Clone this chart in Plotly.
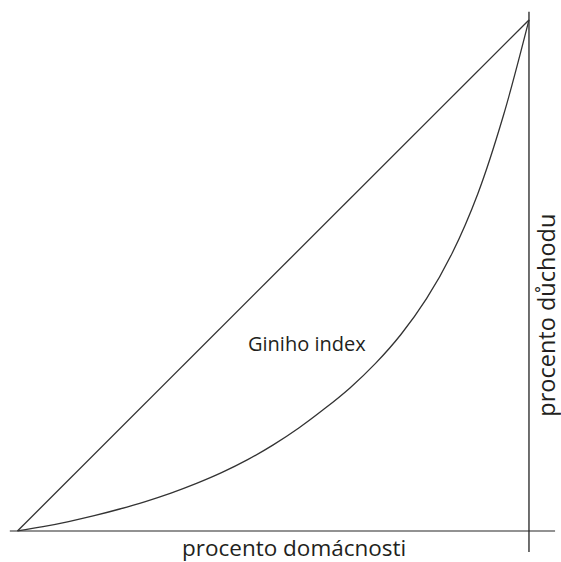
import plotly.graph_objects as go

# Lorenz curve (percent of households vs percent of income)
households = [0, 5, 10, 15, 20, 25, 30, 35, 40, 45, 50, 55, 60, 65, 70, 75, 80, 85, 90, 95, 100]
income = [0, 0.85, 1.85, 3.0, 4.3, 5.75, 7.4, 9.3, 11.45, 13.95, 16.85, 20.15, 23.9, 28.0,
          32.8, 38.5, 45.5, 54.4, 66.0, 81.3, 100]
equality_x = [0, 100]
equality_y = [0, 100]

label_center = "Giniho index"
label_x = "procento domácnosti"
label_y = "procento důchodu"

fig = go.Figure()
# axis lines
fig.add_trace(go.Scatter(x=[-1.5, 105.1], y=[0, 0], mode="lines",
                         line=dict(color="#6e6e6e", width=1.6), hoverinfo="skip"))
fig.add_trace(go.Scatter(x=[100, 100], y=[-4.1, 101.6], mode="lines",
                         line=dict(color="#222222", width=1.3), hoverinfo="skip"))
# equality line
fig.add_trace(go.Scatter(x=equality_x, y=equality_y, mode="lines",
                         line=dict(color="#333333", width=1.3)))
# Lorenz curve
fig.add_trace(go.Scatter(x=households, y=income, mode="lines",
                         line=dict(color="#333333", width=1.3, shape="spline", smoothing=1.0)))

col = "#231f20"
fig.add_annotation(x=56.6, y=36.6, text=label_center, showarrow=False,
                   font=dict(family="Open Sans", size=20, color=col))
fig.add_annotation(x=54.0, y=-3.15, text=label_x, showarrow=False,
                   font=dict(family="Open Sans", size=22.5, color=col))
fig.add_annotation(x=103.3, y=42.3, text=label_y, showarrow=False, textangle=-90,
                   font=dict(family="Open Sans", size=23.5, color=col))

fig.update_layout(
    width=561, height=562,
    margin=dict(l=0, r=0, t=0, b=0),
    paper_bgcolor="white", plot_bgcolor="white",
    showlegend=False,
    xaxis=dict(range=[-3.42, 106.26], visible=False, fixedrange=True),
    yaxis=dict(range=[-6.07, 103.9], visible=False, fixedrange=True),
)
fig.write_html("out.html", config={"displayModeBar": False},
               post_script="document.body.style.margin='0';document.body.style.overflow='hidden';")
